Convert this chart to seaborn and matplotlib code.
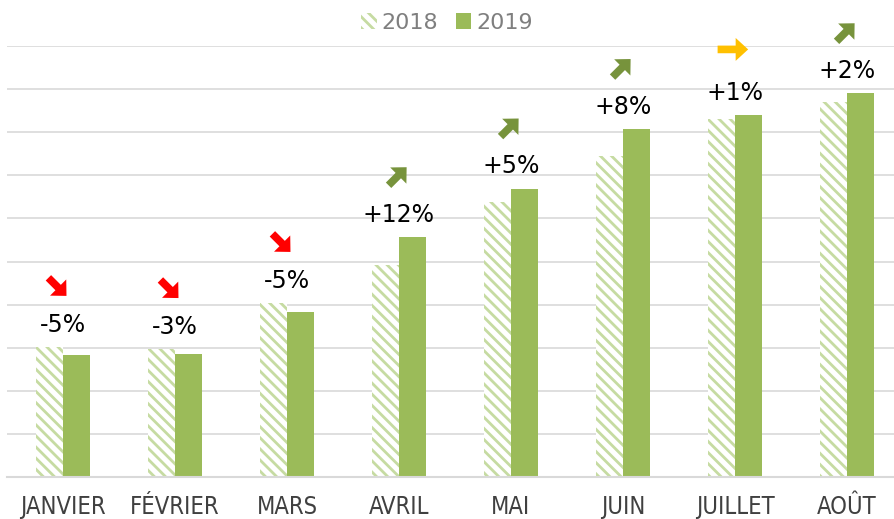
import pandas as pd
import matplotlib.pyplot as plt
import matplotlib.transforms as mtransforms
import seaborn as sns
from matplotlib.patches import Patch, FancyArrow

# Values (units = gridline steps)
months = ["JANVIER", "FÉVRIER", "MARS", "AVRIL", "MAI", "JUIN", "JUILLET", "AOÛT"]
vals_2018 = [3.01, 2.96, 4.03, 4.93, 6.37, 7.45, 8.30, 8.70]
vals_2019 = [2.84, 2.86, 3.83, 5.56, 6.69, 8.07, 8.39, 8.90]
changes = [-5, -3, -5, 12, 5, 8, 1, 2]

GREEN = "#9BBB59"
LIGHT = "#C6DBA2"

df = pd.DataFrame({
    "Mois": months * 2,
    "Année": ["2018"] * len(months) + ["2019"] * len(months),
    "Valeur": vals_2018 + vals_2019,
})

sns.set_theme(style="white")
plt.rcParams["hatch.linewidth"] = 2.0
plt.rcParams["font.family"] = ["DejaVu Sans"]

fig = plt.figure(figsize=(8.94, 5.19), dpi=100)
ax = fig.add_axes([7 / 894, 42 / 519, 887 / 894, 431 / 519])

sns.barplot(data=df, x="Mois", y="Valeur", hue="Année",
            palette={"2018": "white", "2019": GREEN},
            width=0.48, gap=0, saturation=1, legend=False, ax=ax)

HATCH = "\\\\\\"
for bar in ax.containers[0]:
    bar.set_facecolor("white")
    bar.set_edgecolor(LIGHT)
    bar.set_hatch(HATCH)
    bar.set_linewidth(0)
for bar in ax.containers[1]:
    bar.set_linewidth(0)

ax.set_ylim(0, 10)
ax.set_yticks(range(0, 11))
ax.set_xlim(-0.5, 7.42)
ax.yaxis.grid(True, color="#D9D9D9", linewidth=1.2)
ax.set_axisbelow(True)
ax.tick_params(axis="y", left=False, labelleft=False)
ax.tick_params(axis="x", bottom=False, pad=7)
for lab in ax.get_xticklabels():
    lab.set_fontsize(17)
    lab.set_fontstretch("condensed")
    lab.set_color("#404040")
ax.set_xlabel("")
ax.set_ylabel("")
for s in ["top", "right", "left"]:
    ax.spines[s].set_visible(False)
ax.spines["bottom"].set_color("#D9D9D9")
ax.spines["bottom"].set_linewidth(1.5)

for i, c in enumerate(changes):
    top = max(vals_2018[i], vals_2019[i])
    ax.annotate(f"{c:+d}%", (i, top), xytext=(0, 16), textcoords="offset points",
                ha="center", va="center", fontsize=17, color="black")
    # trend arrow, drawn in points around an anchor above the bars
    trans = (mtransforms.Affine2D().scale(1 / 72) + fig.dpi_scale_trans
             + mtransforms.ScaledTranslation(i, top, ax.transData))
    if c < 0:
        col, x0, y0, dx, dy, hl = "#FF0000", -10.5, 50, 7, -7, 8.5
    elif c <= 1:
        col, x0, y0, dx, dy, hl = "#FFC000", -12.5, 47.5, 13, 0, 9
    else:
        col, x0, y0, dx, dy, hl = "#77933C", -7.5, 37.5, 7, 7, 8.5
    ax.add_patch(FancyArrow(x0, y0, dx, dy, width=5.5, head_width=16.5, head_length=hl,
                            length_includes_head=False, color=col, lw=0,
                            transform=trans, clip_on=False))

handles = [Patch(facecolor="white", edgecolor=LIGHT, hatch=HATCH, linewidth=0),
           Patch(facecolor=GREEN, linewidth=0)]
fig.legend(handles, ["2018", "2019"], loc="center", bbox_to_anchor=(0.5, 1 - 23 / 519),
           ncol=2, frameon=False, labelcolor="#7F7F7F",
           handlelength=0.7, handleheight=0.7, handletextpad=0.2, columnspacing=0.8,
           prop={"family": "DejaVu Sans", "size": 16})

fig.savefig("out.png", dpi=100)
